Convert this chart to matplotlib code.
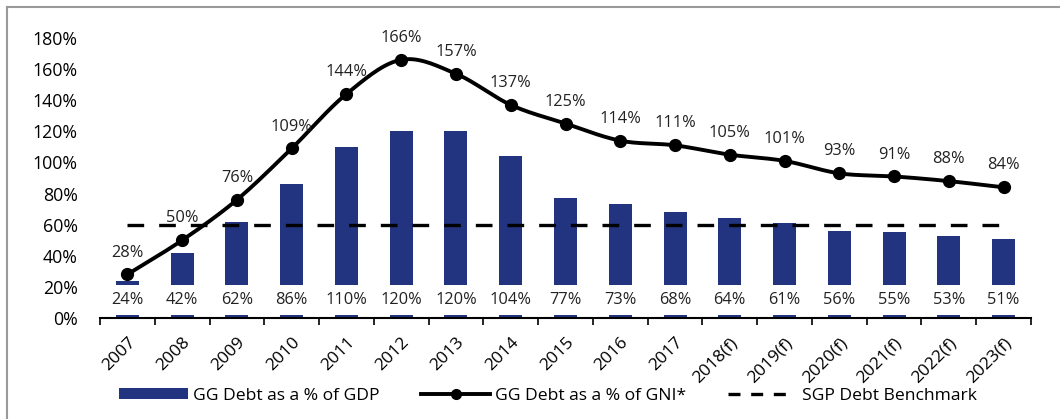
import numpy as np
import matplotlib
matplotlib.use("Agg")
import matplotlib.pyplot as plt
from matplotlib.lines import Line2D
from matplotlib.patches import Patch

plt.rcParams['font.family'] = ['Open Sans', 'DejaVu Sans']

# Series
years = ["2007", "2008", "2009", "2010", "2011", "2012", "2013", "2014", "2015",
         "2016", "2017", "2018(f)", "2019(f)", "2020(f)", "2021(f)", "2022(f)", "2023(f)"]
debt_gdp = [24, 42, 62, 86, 110, 120, 120, 104, 77, 73, 68, 64, 61, 56, 55, 53, 51]
debt_gni = [28, 50, 76, 109, 144, 166, 157, 137, 125, 114, 111, 105, 101, 93, 91, 88, 84]
sgp_benchmark = 60

NAVY = "#22337F"


def smooth_curve(x, y, steps=30):
    # Catmull-Rom spline, similar to a spreadsheet "smoothed line"
    x = np.asarray(x, float)
    y = np.asarray(y, float)
    px = np.concatenate([[2 * x[0] - x[1]], x, [2 * x[-1] - x[-2]]])
    py = np.concatenate([[2 * y[0] - y[1]], y, [2 * y[-1] - y[-2]]])
    xs, ys = [], []
    for i in range(1, len(px) - 2):
        t = np.linspace(0, 1, steps, endpoint=False)
        for p, out in ((px, xs), (py, ys)):
            p0, p1, p2, p3 = p[i - 1], p[i], p[i + 1], p[i + 2]
            out.append(0.5 * ((2 * p1) + (-p0 + p2) * t +
                              (2 * p0 - 5 * p1 + 4 * p2 - p3) * t ** 2 +
                              (-p0 + 3 * p1 - 3 * p2 + p3) * t ** 3))
    xs.append([x[-1]])
    ys.append([y[-1]])
    return np.concatenate(xs), np.concatenate(ys)


fig = plt.figure(figsize=(10.6, 4.19), dpi=100)
ax = fig.add_axes([100 / 1060, 1 - 318 / 419, 931 / 1060, 280 / 419])

x = np.arange(len(years))
ax.bar(x, debt_gdp, width=0.42, color=NAVY, zorder=2)
ax.plot([x[0], x[-1]], [sgp_benchmark, sgp_benchmark], color="black", lw=2.4,
        dashes=(5, 4.5), zorder=3)

sx, sy = smooth_curve(x, debt_gni)
ax.plot(sx, sy, color="black", lw=2.8, zorder=4, solid_capstyle="round")
ax.plot(x, debt_gni, "o", color="black", ms=8.5, zorder=5)

for xi, v in zip(x, debt_gni):
    ax.annotate(f"{v}%", (xi, v), xytext=(0, 10), textcoords="offset points",
                ha="center", va="bottom", fontsize=11.8, color="#222222", zorder=6,
                annotation_clip=False)

for xi, v in zip(x, debt_gdp):
    ax.text(xi, 11.5, f"{v}%", ha="center", va="center", fontsize=11.8, color="#222222",
            zorder=6, bbox=dict(boxstyle="square,pad=0.42", facecolor="white",
                                edgecolor="none"))

ax.set_xlim(-0.5, len(years) - 0.5)
ax.set_ylim(0, 180)
ax.set_yticks(np.arange(0, 181, 20))
ax.set_yticklabels([f"{v}%" for v in range(0, 181, 20)], fontsize=12.8)
ax.tick_params(axis="y", length=0, pad=16)

ax.set_xticks(x)
ax.set_xticklabels(years, rotation=45, ha="right", rotation_mode="anchor", fontsize=12.5)
ax.set_xticks(np.arange(-0.5, len(years)), minor=True)
ax.tick_params(axis="x", which="major", length=0, pad=12)
ax.tick_params(axis="x", which="minor", length=5, width=1.2, direction="out")

for side in ("top", "right", "left"):
    ax.spines[side].set_visible(False)
ax.spines["bottom"].set_linewidth(1.5)
ax.spines["bottom"].set_zorder(7)

handles = [
    Patch(facecolor=NAVY, edgecolor="none"),
    Line2D([], [], color="black", lw=2.8, marker="o", ms=7),
    Line2D([], [], color="black", lw=2.4, dashes=(3.6, 3.2)),
]
labels = ["GG Debt as a % of GDP", "GG Debt as a % of GNI*", "SGP Debt Benchmark"]
fig.legend(handles, labels, loc="center", bbox_to_anchor=(0.517, 1 - 396 / 419),
           ncol=3, frameon=False, fontsize=12.6, handlelength=3.9, handleheight=0.6,
           columnspacing=2.4, handletextpad=0.3)

# outer frame (top and left edges)
fig.add_artist(Line2D([7 / 1060, 1], [1 - 7 / 419, 1 - 7 / 419], color="#9a9a9a", lw=1.5,
                      transform=fig.transFigure))
fig.add_artist(Line2D([7 / 1060, 7 / 1060], [0, 1 - 7 / 419], color="#9a9a9a", lw=1.5,
                      transform=fig.transFigure))

fig.savefig("out.png", dpi=100, facecolor="white")
